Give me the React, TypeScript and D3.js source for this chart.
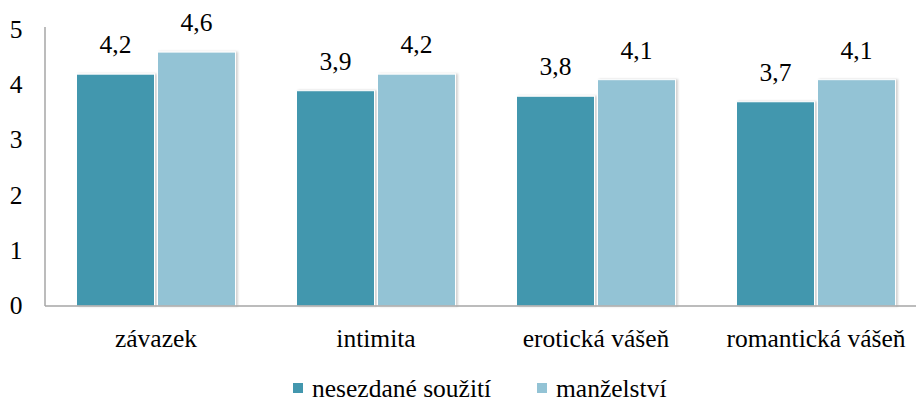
import React from "react";
import * as d3 from "d3";

const categories = ["závazek", "intimita", "erotická vášeň", "romantická vášeň"];
const seriesNames = ["nesezdané soužití", "manželství"];
const cohabitation = [4.2, 3.9, 3.8, 3.7];
const marriage = [4.6, 4.2, 4.1, 4.1];
const yTicks = [0, 1, 2, 3, 4, 5];
const colors = ["#4397AE", "#93C3D5"];

const font = "Liberation Serif";

export default function App() {
  const W = 916, H = 400;
  const x0 = 46, x1 = 926;
  const x = d3.scaleBand<string>().domain(categories).range([x0, x1]).paddingInner(0).paddingOuter(0);
  const xi = d3.scaleBand<string>().domain(seriesNames).range([0, x.bandwidth()]).paddingInner(3 / 81).paddingOuter(61 / 162);
  const y = d3.scaleLinear().domain([0, 5]).range([306, 30]);
  const series = [cohabitation, marriage];
  const fmt = (v: number) => d3.format(".1f")(v).replace(".", ",");
  const fs = 25.5;

  return (
    <svg width={W} height={H} style={{ position: "absolute", left: 0, top: 0, background: "#fff" }}>
      <defs>
        <filter id="sh" x="-10%" y="-10%" width="130%" height="120%">
          <feDropShadow dx="2" dy="0" stdDeviation="1" floodColor="#000" floodOpacity="0.18" />
        </filter>
      </defs>
      {yTicks.map((t) => (
        <text key={t} x={16} y={y(t) + 8} fontFamily={font} fontSize={fs} textAnchor="middle" fill="#000">{t}</text>
      ))}
      {categories.map((c, i) =>
        series.map((s, j) => {
          const bx = (x(c) as number) + (xi(seriesNames[j]) as number);
          const bw = xi.bandwidth();
          return (
            <g key={c + j}>
              <rect x={bx} y={y(s[i])} width={bw} height={y(0) - y(s[i])} fill={colors[j]} stroke="#fff" strokeWidth={1} filter="url(#sh)" />
              <text x={bx + bw / 2} y={y(s[i]) - 21} fontFamily={font} fontSize={fs} textAnchor="middle" fill="#000">{fmt(s[i])}</text>
            </g>
          );
        })
      )}
      <line x1={45} x2={45} y1={27} y2={306} stroke="#A6A6A6" strokeWidth={1.5} />
      <line x1={45} x2={916} y1={306} y2={306} stroke="#A6A6A6" strokeWidth={1.5} />
      {categories.map((c) => (
        <text key={c} x={(x(c) as number) + x.bandwidth() / 2} y={347} fontFamily={font} fontSize={fs} textAnchor="middle" fill="#000">{c}</text>
      ))}
      {seriesNames.map((n, j) => {
        const lx = [293, 537][j];
        return (
          <g key={n}>
            <rect x={lx} y={383} width={10} height={10} fill={colors[j]} />
            <text x={lx + 19} y={397} fontFamily={font} fontSize={fs} fill="#000">{n}</text>
          </g>
        );
      })}
    </svg>
  );
}
